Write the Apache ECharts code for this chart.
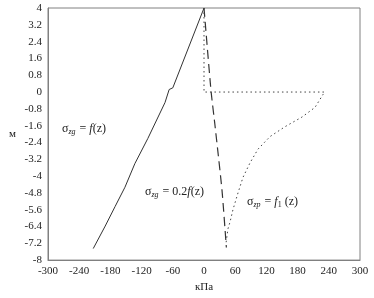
<!DOCTYPE html>
<html><head><meta charset="utf-8">
<script src="https://cdn.jsdelivr.net/npm/echarts@6/dist/echarts.min.js"></script>
<style>html,body{margin:0;padding:0;background:#fff}#c{width:374px;height:298px}</style>
</head><body><div id="c"></div>
<script>
// Depth values (m) and stresses (kPa)
const solidZ = [4, 0.2, 0.12, -0.5, -2.21, -3.41, -4.53, -5.45, -6.38, -7.45];
const solidX = [0, -60, -67, -75, -108, -133, -152, -171, -190, -213];
const dashZ = [4, 0.06, -1.56, -4.67, -7.4];
const dashX = [0, 13.5, 21, 34.6, 43];
const dotZ = [4, 0, 0, -0.12, -0.73, -1.19, -1.65, -2.12, -2.72, -3.37, -4.06, -4.8, -5.59, -6.19, -6.52, -7.2];
const dotX = [0, 0, 232, 228.8, 213.5, 188.5, 155.8, 127, 103.8, 88.5, 75, 65.4, 55.8, 50, 46, 42.3];
const xTicks = {min: -300, max: 300, interval: 60};
const yTicks = {min: -8, max: 4, interval: 0.8};

const pair = (xs, zs) => xs.map((x, i) => [x, zs[i]]);
const chart = echarts.init(document.getElementById('c'));
const serif = 'Liberation Serif';
const lineCol = '#333';
chart.setOption({
  animation: false,
  grid: {left: 48, right: 14, top: 8, bottom: 31, show: true, borderColor: '#808080', borderWidth: 1},
  xAxis: {
    type: 'value', min: xTicks.min, max: xTicks.max, interval: xTicks.interval,
    splitLine: {show: false}, axisTick: {show: false},
    axisLine: {show: true, onZero: false, lineStyle: {color: '#808080'}},
    axisLabel: {fontFamily: serif, fontSize: 11, color: '#222', margin: 6},
    name: 'кПа', nameLocation: 'middle', nameGap: 19,
    nameTextStyle: {fontFamily: serif, fontSize: 11, color: '#222'}
  },
  yAxis: {
    type: 'value', min: yTicks.min, max: yTicks.max, interval: yTicks.interval,
    splitLine: {show: false}, axisTick: {show: false},
    axisLine: {show: true, onZero: false, lineStyle: {color: '#808080'}},
    axisLabel: {fontFamily: serif, fontSize: 11, color: '#222', margin: 6,
      formatter: v => String(+v.toFixed(1))},
    name: 'м', nameLocation: 'middle', nameGap: 32, nameRotate: 0,
    nameTextStyle: {fontFamily: serif, fontSize: 11, color: '#222'}
  },
  series: [
    {type: 'line', data: pair(solidX, solidZ), showSymbol: false,
     lineStyle: {color: lineCol, width: 1}},
    {type: 'line', data: pair(dashX, dashZ), showSymbol: false, smooth: 0.2,
     lineStyle: {color: lineCol, width: 1.2, type: [9, 5]}},
    {type: 'line', data: pair(dotX, dotZ), showSymbol: false,
     lineStyle: {color: '#444', width: 1, type: [1.5, 3]}}
  ],
  graphic: [
    {type: 'text', left: 62, top: 123, style: {
      text: '{s|σ}{sub|zg}{s| = }{i|f}{s|(z)}',
      rich: {s: {fontFamily: serif, fontSize: 12, fill: '#222'},
             i: {fontFamily: serif, fontSize: 12, fontStyle: 'italic', fill: '#222'},
             sub: {fontFamily: serif, fontSize: 8, fontStyle: 'italic', fill: '#222', padding: [5, 1, 0, 0]}}}},
    {type: 'text', left: 145, top: 186, style: {
      text: '{s|σ}{sub|zg}{s| = 0.2}{i|f}{s|(z)}',
      rich: {s: {fontFamily: serif, fontSize: 12, fill: '#222'},
             i: {fontFamily: serif, fontSize: 12, fontStyle: 'italic', fill: '#222'},
             sub: {fontFamily: serif, fontSize: 8, fontStyle: 'italic', fill: '#222', padding: [5, 1, 0, 0]}}}},
    {type: 'text', left: 247, top: 196, style: {
      text: '{s|σ}{sub|zp}{s| = }{i|f}{sub2|1}{s| (z)}',
      rich: {s: {fontFamily: serif, fontSize: 12, fill: '#222'},
             i: {fontFamily: serif, fontSize: 12, fontStyle: 'italic', fill: '#222'},
             sub: {fontFamily: serif, fontSize: 8, fontStyle: 'italic', fill: '#222', padding: [5, 1, 0, 0]},
             sub2: {fontFamily: serif, fontSize: 8, fill: '#222', padding: [5, 0, 0, 0]}}}}
  ]
});
</script></body></html>
